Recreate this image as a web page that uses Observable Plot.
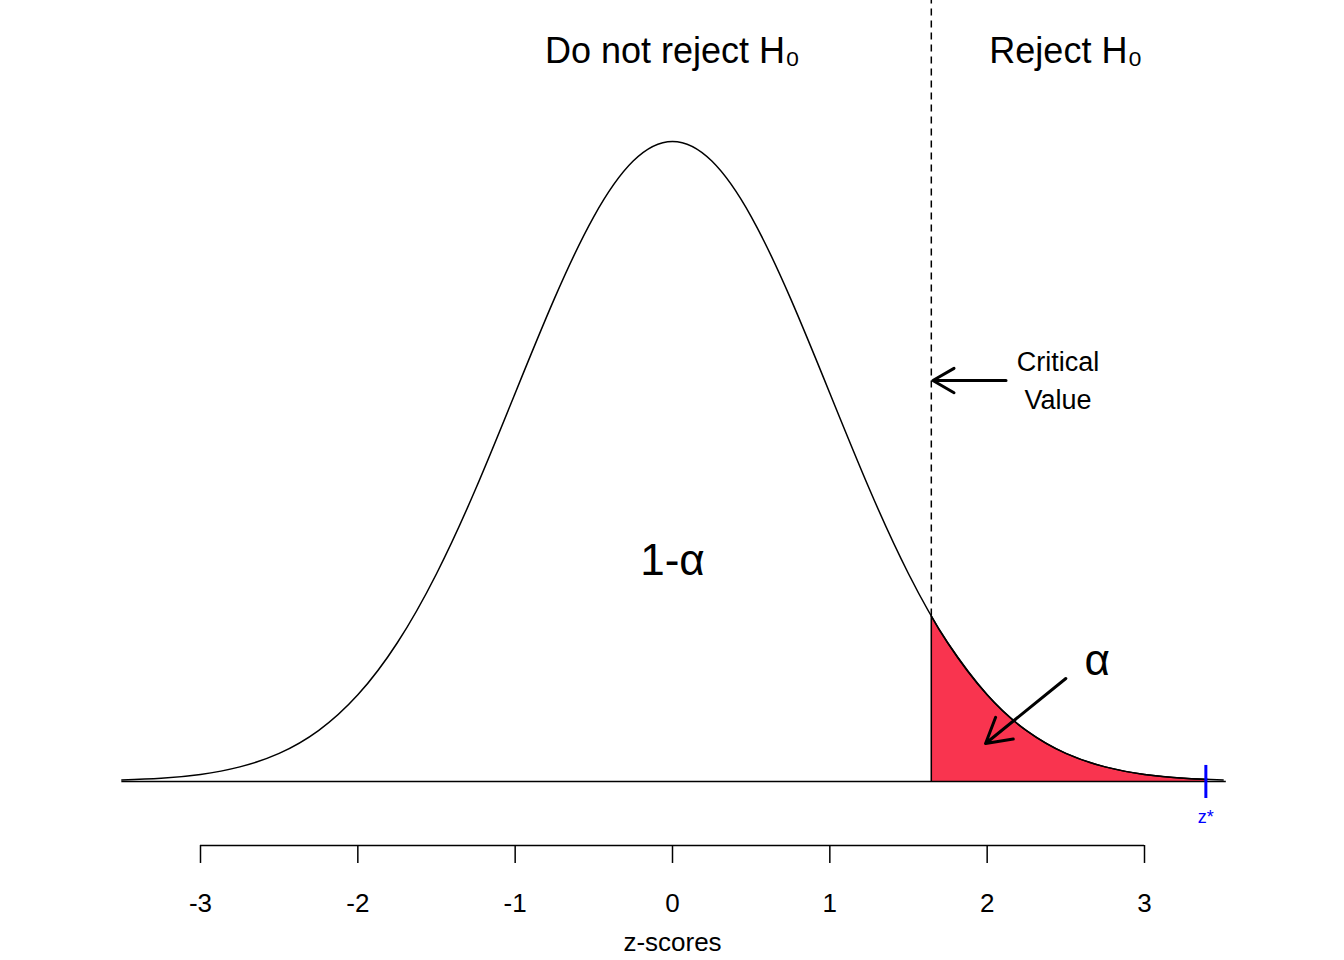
<!DOCTYPE html>
<html lang="en">
<head>
<meta charset="UTF-8">
<script src="https://cdn.jsdelivr.net/npm/d3@7"></script>
<script src="https://cdn.jsdelivr.net/npm/@observablehq/plot@0.6"></script>
<style>
  body { margin: 0; background: #fff; }
  svg { font-family: "Liberation Sans", Arial, sans-serif; }
</style>
</head>
<body>
<div id="chart"></div>
<script>
// standard normal density, read at steps of 0.25
const zs = [-3.5,-3.25,-3,-2.75,-2.5,-2.25,-2,-1.75,-1.5,-1.25,-1,-0.75,-0.5,-0.25,0,
            0.25,0.5,0.75,1,1.25,1.5,1.75,2,2.25,2.5,2.75,3,3.25,3.5];
const dens = [0.0009,0.0020,0.0044,0.0091,0.0175,0.0317,0.0540,0.0863,0.1295,0.1826,0.2420,0.3011,0.3521,0.3867,0.3989,
              0.3867,0.3521,0.3011,0.2420,0.1826,0.1295,0.0863,0.0540,0.0317,0.0175,0.0091,0.0044,0.0020,0.0009];
// rejection tail
const tailZ = [1.645,1.75,2,2.25,2.5,2.75,3,3.25,3.4];
const tailD = [0.1031,0.0863,0.0540,0.0317,0.0175,0.0091,0.0044,0.0020,0.0012];
const critical = 1.645;
const zStar = 3.39;
const ticks = [-3,-2,-1,0,1,2,3];
const axisY = -0.0399;

const curve = zs.map((z, i) => ({z, d: dens[i]}));
const tail = tailZ.map((z, i) => ({z, d: tailD[i]}));

const plot = Plot.plot({
  width: 1344, height: 960,
  marginTop: 141, marginBottom: 115, marginLeft: 200, marginRight: 200,
  x: {domain: [-3, 3], axis: null},
  y: {domain: [axisY, 0.3989], axis: null},
  style: {fontSize: "24px", fontFamily: "Liberation Sans, Arial, sans-serif"},
  marks: [
    Plot.areaY(tail, {x: "z", y: "d", fill: "#f9344f", curve: "natural"}),
    Plot.lineY(tail, {x: "z", y: "d", stroke: "black", curve: "natural", strokeWidth: 1.5}),
    Plot.ruleX([critical], {y1: 0, y2: 0.1031, stroke: "black", strokeWidth: 1.5}),
    Plot.ruleX([critical], {y1: 0.1031, y2: 0.4868, stroke: "black", strokeDasharray: "7,5", strokeWidth: 1.5}),
    Plot.lineY(curve, {x: "z", y: "d", stroke: "black", curve: "natural", strokeWidth: 1.5}),
    Plot.ruleY([0], {x1: -3.5, x2: 3.52, stroke: "black", strokeWidth: 1.5}),
    // x axis
    Plot.ruleY([axisY], {x1: -3, x2: 3, stroke: "black", strokeWidth: 1.5}),
    Plot.ruleX(ticks, {x: d => d, y1: axisY, y2: -0.0511, stroke: "black", strokeWidth: 1.5}),
    Plot.text(ticks, {x: d => d, y: -0.076, text: d => String(d), fontSize: 26}),
    Plot.text(["z-scores"], {x: 0, y: -0.1003, text: d => d, fontSize: 26}),
    // z* marker
    Plot.ruleX([zStar], {y1: 0.0100, y2: -0.0106, stroke: "blue", strokeWidth: 3}),
    Plot.text(["z*"], {x: zStar, y: -0.0225, text: d => d, fill: "blue", fontSize: 18}),
    // annotations
    Plot.text(["Do not reject H₀"], {x: 0, y: 0.4551, text: d => d, fontSize: 36}),
    Plot.text(["Reject H₀"], {x: 2.5, y: 0.4551, text: d => d, fontSize: 36}),
    Plot.text(["Critical"], {x: 2.45, y: 0.2612, text: d => d, fontSize: 27}),
    Plot.text(["Value"], {x: 2.45, y: 0.2375, text: d => d, fontSize: 27}),
    Plot.arrow([0], {x1: 2.12, y1: 0.2499, x2: 1.655, y2: 0.2499, stroke: "black", strokeWidth: 3, headLength: 14}),
    Plot.text(["1-α"], {x: 0, y: 0.1377, text: d => d, fontSize: 44}),
    Plot.text(["α"], {x: 2.7, y: 0.0754, text: d => d, fontSize: 44}),
    Plot.arrow([0], {x1: 2.5, y1: 0.0642, x2: 1.99, y2: 0.0237, stroke: "black", strokeWidth: 3, headLength: 14})
  ]
});
document.getElementById("chart").replaceChildren(plot);
</script>
</body>
</html>
